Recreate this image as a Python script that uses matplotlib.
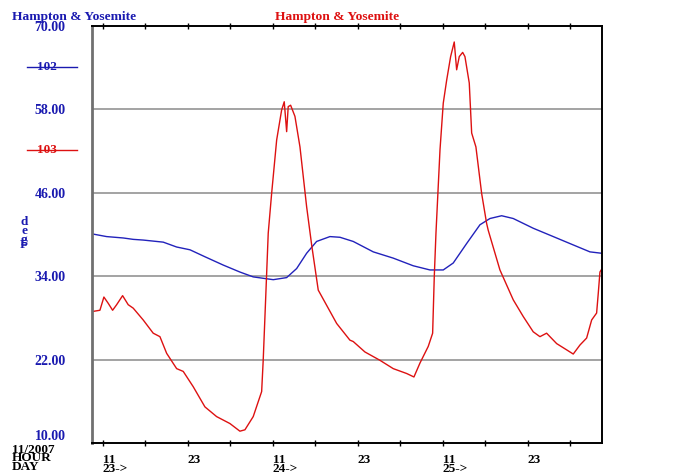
import matplotlib
matplotlib.use("Agg")
import matplotlib.pyplot as plt
from matplotlib.lines import Line2D

# hours counted from 00:00 on day 23
red_hours = [9.45, 10.62, 11.18, 11.79, 12.41, 12.98, 13.82, 14.61, 15.32, 16.73,
             18.14, 19.09, 20.04, 21.45, 22.38, 23.79, 25.44, 27.09, 28.97, 30.38,
             31.09, 32.26, 33.45, 33.67, 34.01, 34.38, 34.86, 35.57, 36.27, 36.64,
             36.98, 37.20, 37.54, 38.15, 38.86, 39.80, 40.51, 41.44, 44.04, 45.91,
             46.38, 48.03, 50.15, 52.03, 53.92, 54.95, 55.80, 56.97, 57.59, 57.82,
             58.06, 58.63, 59.09, 59.57, 60.13, 60.64, 60.98, 61.35, 61.83, 62.15,
             62.76, 63.10, 63.70, 64.51, 65.21, 65.44, 67.09, 68.97, 70.38, 71.79,
             72.74, 73.68, 75.10, 76.51, 77.44, 78.39, 79.33, 80.04, 80.74, 80.97,
             81.21, 81.45]
red_temp = [28.9, 29.1, 31.0, 30.1, 29.1, 29.9, 31.2, 29.9, 29.4, 27.7,
            25.8, 25.3, 22.9, 20.7, 20.3, 18.1, 15.2, 13.8, 12.8, 11.7,
            11.9, 13.8, 17.4, 21.9, 30.6, 40.2, 45.9, 53.6, 57.9, 59.1,
            54.8, 58.4, 58.6, 57.0, 52.6, 44.0, 38.5, 32.0, 27.2, 24.8,
            24.6, 23.1, 21.9, 20.7, 20.0, 19.5, 21.5, 23.9, 25.8, 33.9,
            40.2, 52.2, 58.9, 62.2, 65.6, 67.7, 63.7, 65.6, 66.2, 65.6,
            61.8, 54.6, 52.6, 45.9, 41.6, 40.6, 34.9, 30.6, 28.2, 26.0,
            25.3, 25.8, 24.3, 23.4, 22.8, 24.1, 25.1, 27.7, 28.7, 31.5,
            34.6, 35.0]

blue_hours = [9.45, 11.56, 13.91, 15.32, 16.73, 19.56, 21.45, 23.33, 25.44, 28.03,
              30.38, 32.26, 35.09, 36.98, 38.39, 39.80, 41.21, 43.09, 44.51, 46.38,
              49.21, 52.03, 54.85, 57.21, 59.09, 60.50, 62.39, 64.27, 65.68, 67.33,
              68.97, 71.79, 74.62, 77.44, 79.80, 81.45]
blue_temp = [40.1, 39.7, 39.5, 39.3, 39.2, 38.9, 38.2, 37.8, 36.8, 35.6,
             34.6, 33.9, 33.5, 33.8, 35.1, 37.3, 39.0, 39.7, 39.6, 39.0,
             37.5, 36.6, 35.5, 34.9, 34.9, 35.9, 38.7, 41.4, 42.3, 42.7,
             42.3, 40.9, 39.7, 38.5, 37.5, 37.3]

y_ticks = [10, 22, 34, 46, 58, 70]
x_ticks = [11, 17, 23, 29, 35, 41, 47, 53, 59, 65, 71, 77]
hour_labels = {11: "11", 23: "23", 35: "11", 47: "23", 59: "11", 71: "23"}
day_labels = {11: "23->", 35: "24->", 59: "25->"}

BLUE = "#1a1ab0"
RED = "#dd1111"
font = "Liberation Serif"

fig = plt.figure(figsize=(6.81, 4.75), dpi=100)
ax = fig.add_axes([92 / 681, 1 - 443 / 475, 510 / 681, 417 / 475])

ax.plot(blue_hours, blue_temp, color="#2222bb", lw=1.0)
ax.plot(red_hours, red_temp, color=RED, lw=1.0)

ax.set_xlim(9.5, 81.5)
ax.set_ylim(10, 70)
for g in [22, 34, 46, 58]:
    ax.axhline(g, color="#8a8a8a", lw=1.1, zorder=0)

ax.set_yticks(y_ticks)
ax.set_yticklabels(["%.2f" % v for v in y_ticks], color=BLUE, fontfamily=font,
                   fontweight="bold", fontsize=10)
ax.get_yticklabels()[0].set_va("bottom")
ax.tick_params(axis="y", length=0, pad=19)
ax.set_xticks(x_ticks)
ax.set_xticklabels([])
ax.tick_params(axis="x", direction="inout", length=5, width=1, top=True)

for s in ["top", "bottom", "right"]:
    ax.spines[s].set_color("black")
    ax.spines[s].set_linewidth(1.4)
ax.spines["left"].set_color("#707070")
ax.spines["left"].set_linewidth(2)

# x labels
for h, lab in hour_labels.items():
    ax.text(h, -0.04, lab, transform=ax.get_xaxis_transform(), ha="left", va="center",
            fontfamily=font, fontweight="bold", fontsize=9.5)
for h, lab in day_labels.items():
    ax.text(h, -0.062, lab, transform=ax.get_xaxis_transform(), ha="left", va="center",
            fontfamily=font, fontweight="bold", fontsize=9.5)

# titles and side labels (figure pixel positions)
def ftext(x, y, s, **kw):
    fig.text(x / 681, 1 - y / 475, s, fontfamily=font, fontweight="bold", **kw)

ftext(12, 17, "Hampton & Yosemite", color=BLUE, fontsize=9.7, va="center")
ftext(275, 17, "Hampton & Yosemite", color=RED, fontsize=9.7, va="center")
ftext(47, 67, "102", color=BLUE, fontsize=9.5, va="center", ha="center")
ftext(47, 150, "103", color=RED, fontsize=9.5, va="center", ha="center")
fig.add_artist(Line2D([27 / 681, 77 / 681], [1 - 67 / 475] * 2, color=BLUE, lw=1))
fig.add_artist(Line2D([27 / 681, 77 / 681], [1 - 150 / 475] * 2, color=RED, lw=1))
for ch, yy in [("d", 222), ("e", 231), ("g", 240), ("F", 245)]:
    ftext(24, yy, ch, color=BLUE, fontsize=9.5, va="center", ha="center")
for s, yy in [("11/2007", 450), ("HOUR", 458), ("DAY", 467)]:
    ftext(12, yy, s, color="black", fontsize=9.5, va="center")

fig.savefig("out.png", dpi=100, facecolor="white")
